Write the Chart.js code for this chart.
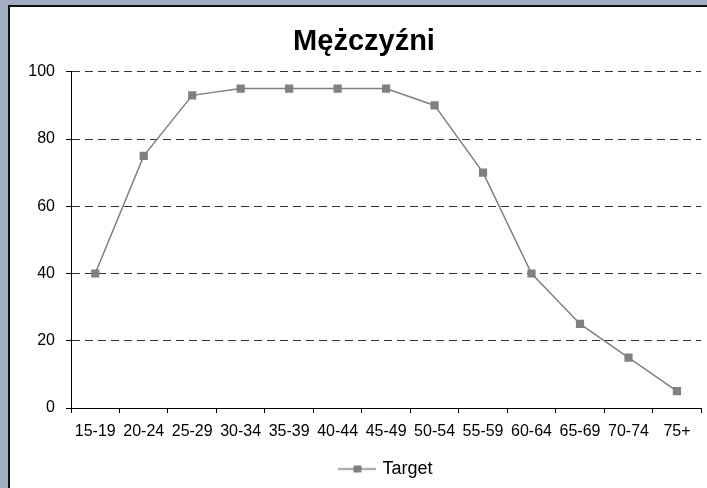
<!DOCTYPE html>
<html>
<head>
<meta charset="utf-8">
<script src="https://cdn.jsdelivr.net/npm/chart.js@4"></script>
<style>
  html, body { margin: 0; padding: 0; overflow: hidden; }
  body { width: 707px; height: 488px; background: #a2adc4; position: relative; }
  #panel {
    position: absolute; left: 8px; top: 5px; width: 720px; height: 500px;
    background: #fff; border-left: 2px solid #111; border-top: 2px solid #111;
  }
  #wrap { position: absolute; left: 0; top: 0; width: 707px; height: 488px; }
</style>
</head>
<body>
<div id="panel"></div>
<div id="wrap"><canvas id="myChart"></canvas></div>
<script>
var ageGroups = ['15-19', '20-24', '25-29', '30-34', '35-39', '40-44', '45-49',
                 '50-54', '55-59', '60-64', '65-69', '70-74', '75+'];
var targetValues = [40, 75, 93, 95, 95, 95, 95, 90, 70, 40, 25, 15, 5];
var yTicks = [0, 20, 40, 60, 80, 100];

var FONT = "'Liberation Sans', Arial, sans-serif";
var GRAY = '#808080';

// legend marker: short line with a square in the middle
var legendIcon = document.createElement('canvas');
legendIcon.width = 38;
legendIcon.height = 9;
var ic = legendIcon.getContext('2d');
ic.strokeStyle = GRAY;
ic.lineWidth = 1.5;
ic.beginPath();
ic.moveTo(0, 4.5);
ic.lineTo(38, 4.5);
ic.stroke();
ic.fillStyle = GRAY;
ic.fillRect(15, 1, 8, 7);

// nudge title and legend to where the original sits
var shiftBlocks = {
  id: 'shiftBlocks',
  afterLayout: function(chart) {
    if (chart.titleBlock) { chart.titleBlock.left += 12; chart.titleBlock.right += 12; }
    if (chart.legend) { chart.legend.left += 35; chart.legend.right += 35; }
  }
};

Chart.defaults.font.family = FONT;
Chart.defaults.color = '#000';

var ctx = document.getElementById('myChart').getContext('2d');
var myChart = new Chart(ctx, {
  type: 'line',
  data: {
    labels: ageGroups,
    datasets: [{
      label: 'Target',
      data: targetValues,
      borderColor: GRAY,
      backgroundColor: GRAY,
      borderWidth: 1.5,
      pointStyle: 'rect',
      pointRadius: 5.8,
      pointHoverRadius: 5.8,
      pointBorderWidth: 0,
      tension: 0
    }]
  },
  options: {
    responsive: true,
    maintainAspectRatio: false,
    animation: false,
    layout: { padding: { left: 0, right: 3, top: 0, bottom: 0 } },
    plugins: {
      title: {
        display: true,
        text: 'Mężczyźni',
        color: '#000',
        font: { size: 29, weight: 'bold', family: FONT },
        padding: { top: 25, bottom: 12 }
      },
      legend: {
        position: 'bottom',
        labels: {
          usePointStyle: true,
          pointStyle: legendIcon,
          pointStyleWidth: 32,
          padding: 7,
          color: '#000',
          font: { size: 18, family: FONT }
        }
      },
      tooltip: { enabled: false }
    },
    scales: {
      x: {
        offset: true,
        grid: {
          offset: true,
          drawOnChartArea: false,
          drawTicks: true,
          tickLength: 5,
          tickColor: '#000'
        },
        border: { color: '#000', width: 1 },
        ticks: {
          padding: 9,
          maxRotation: 0,
          autoSkip: false,
          color: '#000',
          font: { size: 16, family: FONT }
        },
        afterFit: function(scale) { scale.height = 45; }
      },
      y: {
        min: 0,
        max: 100,
        afterBuildTicks: function(scale) {
          scale.ticks = yTicks.map(function(v) { return { value: v }; });
        },
        grid: {
          color: '#333',
          lineWidth: 1,
          tickLength: 5,
          tickColor: '#000',
          tickBorderDash: []
        },
        border: { color: '#000', width: 1, dash: [8, 5] },
        ticks: {
          padding: 11,
          color: '#000',
          font: { size: 16, family: FONT }
        },
        afterFit: function(scale) { scale.width = 71; }
      }
    }
  },
  plugins: [shiftBlocks]
});
</script>
</body>
</html>
